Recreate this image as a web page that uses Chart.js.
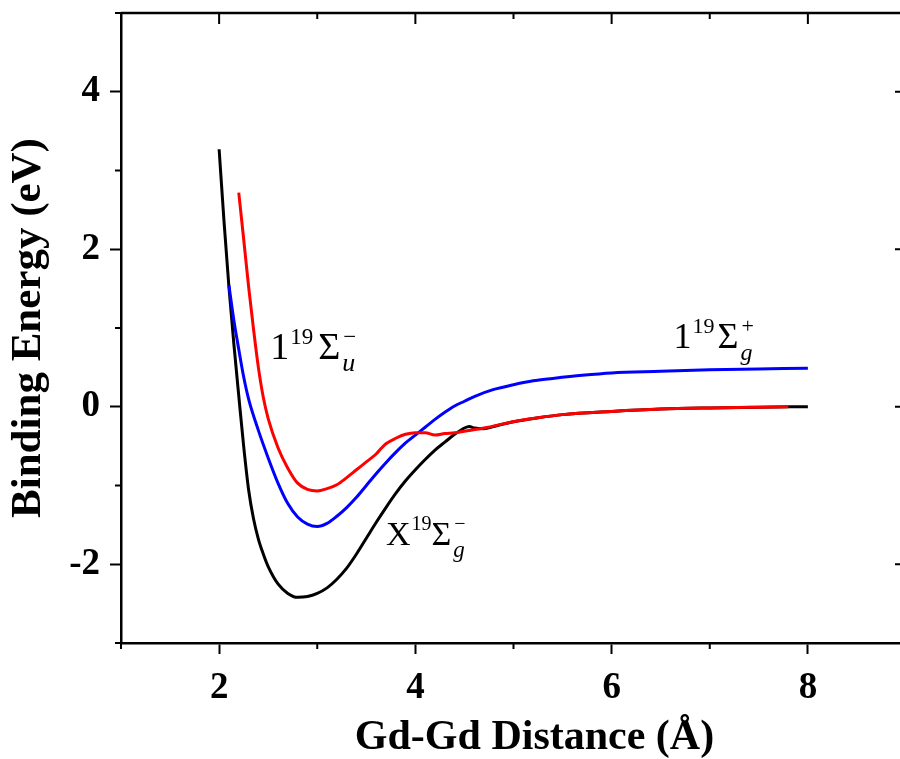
<!DOCTYPE html>
<html>
<head>
<meta charset="utf-8">
<script src="https://cdn.jsdelivr.net/npm/chart.js@4.4.0/dist/chart.umd.min.js"></script>
<style>
  html, body { margin: 0; padding: 0; background: #fff; overflow: hidden; }
  #box { width: 910px; height: 759px; }
</style>
</head>
<body>
<div id="box"><canvas id="myChart1"></canvas></div>
<script>
// X19Σg- (preto)
const xPreto = [2.00, 2.05, 2.10, 2.15, 2.20, 2.25, 2.30, 2.35, 2.40, 2.45, 2.50, 2.60, 2.70, 2.80, 2.90, 3.00, 3.10, 3.20, 3.30, 3.40, 3.50, 3.60, 3.70, 3.80, 3.90, 4.00, 4.10, 4.20, 4.30, 4.40, 4.50, 4.55, 4.60, 4.70, 4.80, 5.00, 5.25, 5.50, 6.00, 6.50, 7.00, 7.50, 8.00];
const yPreto = [3.27, 2.35, 1.52, 0.80, 0.14, -0.50, -1.05, -1.42, -1.68, -1.87, -2.03, -2.25, -2.37, -2.42, -2.41, -2.37, -2.30, -2.19, -2.05, -1.87, -1.67, -1.47, -1.28, -1.10, -0.94, -0.80, -0.67, -0.55, -0.45, -0.35, -0.27, -0.25, -0.27, -0.28, -0.25, -0.19, -0.14, -0.10, -0.06, -0.03, -0.015, -0.005, 0.00];

// 1 19Σg+ (azul)
const xAzul = [2.10, 2.15, 2.20, 2.25, 2.30, 2.40, 2.50, 2.60, 2.70, 2.80, 2.90, 3.00, 3.10, 3.20, 3.30, 3.40, 3.50, 3.60, 3.70, 3.80, 3.90, 4.00, 4.10, 4.20, 4.30, 4.40, 4.50, 4.60, 4.80, 5.00, 5.20, 5.40, 5.70, 6.00, 6.50, 7.00, 7.50, 8.00];
const yAzul = [1.54, 1.10, 0.73, 0.38, 0.10, -0.30, -0.65, -0.97, -1.23, -1.40, -1.49, -1.52, -1.48, -1.39, -1.28, -1.15, -1.00, -0.85, -0.71, -0.58, -0.46, -0.36, -0.26, -0.16, -0.07, 0.01, 0.07, 0.13, 0.22, 0.28, 0.33, 0.36, 0.40, 0.43, 0.45, 0.47, 0.48, 0.49];

// 1 19Σu- (vermelho)
const xVermelho = [2.20, 2.25, 2.30, 2.35, 2.40, 2.45, 2.50, 2.60, 2.70, 2.80, 2.90, 3.00, 3.10, 3.20, 3.30, 3.40, 3.50, 3.60, 3.65, 3.70, 3.80, 3.90, 4.00, 4.10, 4.20, 4.30, 4.40, 4.50, 4.70, 5.00, 5.25, 5.50, 6.00, 6.50, 7.00, 7.50, 7.80];
const yVermelho = [2.72, 2.13, 1.53, 0.99, 0.50, 0.12, -0.15, -0.52, -0.78, -0.97, -1.05, -1.07, -1.04, -0.99, -0.90, -0.80, -0.70, -0.60, -0.53, -0.47, -0.40, -0.35, -0.33, -0.33, -0.36, -0.34, -0.33, -0.31, -0.27, -0.19, -0.14, -0.10, -0.06, -0.03, -0.015, -0.005, 0.00];

const xTicks = [2, 4, 6, 8];
const yTicks = [-2, 0, 2, 4];
const xMinor = [1, 3, 5, 7, 9];
const yMinor = [-3, -1, 1, 3, 5];

const fonte = '"Liberation Serif", "Times New Roman", serif';

function pontos(xs, ys) {
  let lista = [];
  for (let i = 0; i < xs.length; i++) {
    lista.push({ x: xs[i], y: ys[i] });
  }
  return lista;
}

// moldura de cima/direita e ticks menores
const moldura = {
  id: 'moldura',
  afterDraw(chart) {
    const { ctx, chartArea: a, scales: { x, y } } = chart;
    ctx.save();
    ctx.strokeStyle = '#000';
    ctx.lineWidth = 2.5;
    ctx.beginPath();
    ctx.moveTo(a.left, a.top);
    ctx.lineTo(a.right, a.top);
    ctx.lineTo(a.right, a.bottom);
    ctx.stroke();

    ctx.lineWidth = 2;
    ctx.beginPath();
    for (const v of xTicks) {
      const px = x.getPixelForValue(v);
      ctx.moveTo(px, a.top);
      ctx.lineTo(px, a.top + 11);
    }
    for (const v of xMinor) {
      const px = x.getPixelForValue(v);
      ctx.moveTo(px, a.top);
      ctx.lineTo(px, a.top + 6);
      ctx.moveTo(px, a.bottom);
      ctx.lineTo(px, a.bottom + 6);
    }
    for (const v of yTicks) {
      const py = y.getPixelForValue(v);
      ctx.moveTo(a.right, py);
      ctx.lineTo(a.right - 11, py);
    }
    for (const v of yMinor) {
      const py = y.getPixelForValue(v);
      ctx.moveTo(a.right, py);
      ctx.lineTo(a.right - 6, py);
      ctx.moveTo(a.left, py);
      ctx.lineTo(a.left - 6, py);
    }
    ctx.stroke();
    ctx.restore();
  }
};

function escreverRotulo(ctx, x, y, letra, sub, sinal, f, espaco) {
  ctx.fillStyle = '#000';
  ctx.textBaseline = 'alphabetic';
  ctx.textAlign = 'left';
  ctx.font = `${f}px ${fonte}`;
  ctx.fillText(letra, x, y);
  x += ctx.measureText(letra).width;
  ctx.font = `${Math.round(f * 0.6)}px ${fonte}`;
  ctx.fillText('19', x + 1, y - 15);
  x += ctx.measureText('19').width + espaco;
  ctx.font = `${f}px ${fonte}`;
  ctx.fillText('Σ', x, y);
  x += ctx.measureText('Σ').width + 2;
  ctx.font = `italic ${Math.round(f * 0.68)}px ${fonte}`;
  ctx.fillText(sub, x, y + 12);
  ctx.font = `${Math.round(f * 0.6)}px ${fonte}`;
  ctx.fillText(sinal, x + 1, y - 15);
}

const rotulos = {
  id: 'rotulos',
  afterDatasetsDraw(chart) {
    const { ctx, scales: { x, y } } = chart;
    ctx.save();
    escreverRotulo(ctx, x.getPixelForValue(2.52), y.getPixelForValue(0.61), '1', 'u', '−', 38, 6);
    escreverRotulo(ctx, x.getPixelForValue(6.63), y.getPixelForValue(0.75), '1', 'g', '+', 36, 4);
    escreverRotulo(ctx, x.getPixelForValue(3.70), y.getPixelForValue(-1.76), 'X', 'g', '−', 34, 1);
    ctx.restore();
  }
};

let dados = {
  datasets: [
    {
      label: '1 19Σu-',
      data: pontos(xVermelho, yVermelho),
      borderColor: '#ff0000',
    },
    {
      label: '1 19Σg+',
      data: pontos(xAzul, yAzul),
      borderColor: '#0000ff',
    },
    {
      label: 'X 19Σg-',
      data: pontos(xPreto, yPreto),
      borderColor: '#000000',
    },
  ],
};

dados.datasets.forEach(function (d) {
  d.borderWidth = 3;
  d.pointRadius = 0;
  d.fill = false;
  d.cubicInterpolationMode = 'monotone';
});

const config = {
  type: 'line',
  data: dados,
  options: {
    responsive: true,
    maintainAspectRatio: false,
    animation: false,
    layout: { padding: { left: 0, top: 13, right: 4, bottom: 0 } },
    plugins: {
      legend: { display: false },
      tooltip: { enabled: false },
    },
    scales: {
      x: {
        type: 'linear',
        min: 1,
        max: 9,
        afterBuildTicks: (s) => { s.ticks = xTicks.map(v => ({ value: v })); },
        afterFit: (s) => { s.height = 116; s.paddingLeft = 0; s.paddingRight = 0; },
        border: { display: true, color: '#000', width: 2.5 },
        grid: { drawOnChartArea: false, drawTicks: true, tickLength: 11, tickWidth: 2, tickColor: '#000' },
        ticks: { color: '#000', padding: 12, font: { family: fonte, size: 37, weight: 'bold' } },
        title: {
          display: true,
          text: '\u2003Gd-Gd Distance (Å)',
          color: '#000',
          padding: 0,
          font: { family: fonte, size: 42, weight: 'bold', lineHeight: 1 },
        },
      },
      y: {
        min: -3,
        max: 5,
        afterBuildTicks: (s) => { s.ticks = yTicks.map(v => ({ value: v })); },
        afterFit: (s) => { s.width = 121; s.paddingTop = 0; s.paddingBottom = 0; },
        border: { display: true, color: '#000', width: 2.5 },
        grid: { drawOnChartArea: false, drawTicks: true, tickLength: 11, tickWidth: 2, tickColor: '#000' },
        ticks: { color: '#000', padding: 10, font: { family: fonte, size: 37, weight: 'bold' } },
        title: {
          display: true,
          text: 'Binding Energy (eV)',
          color: '#000',
          padding: { top: 7, bottom: 0 },
          font: { family: fonte, size: 43, weight: 'bold', lineHeight: 1 },
        },
      },
    },
  },
  plugins: [moldura, rotulos],
};

let myChart = new Chart(document.getElementById('myChart1'), config);
</script>
</body>
</html>
